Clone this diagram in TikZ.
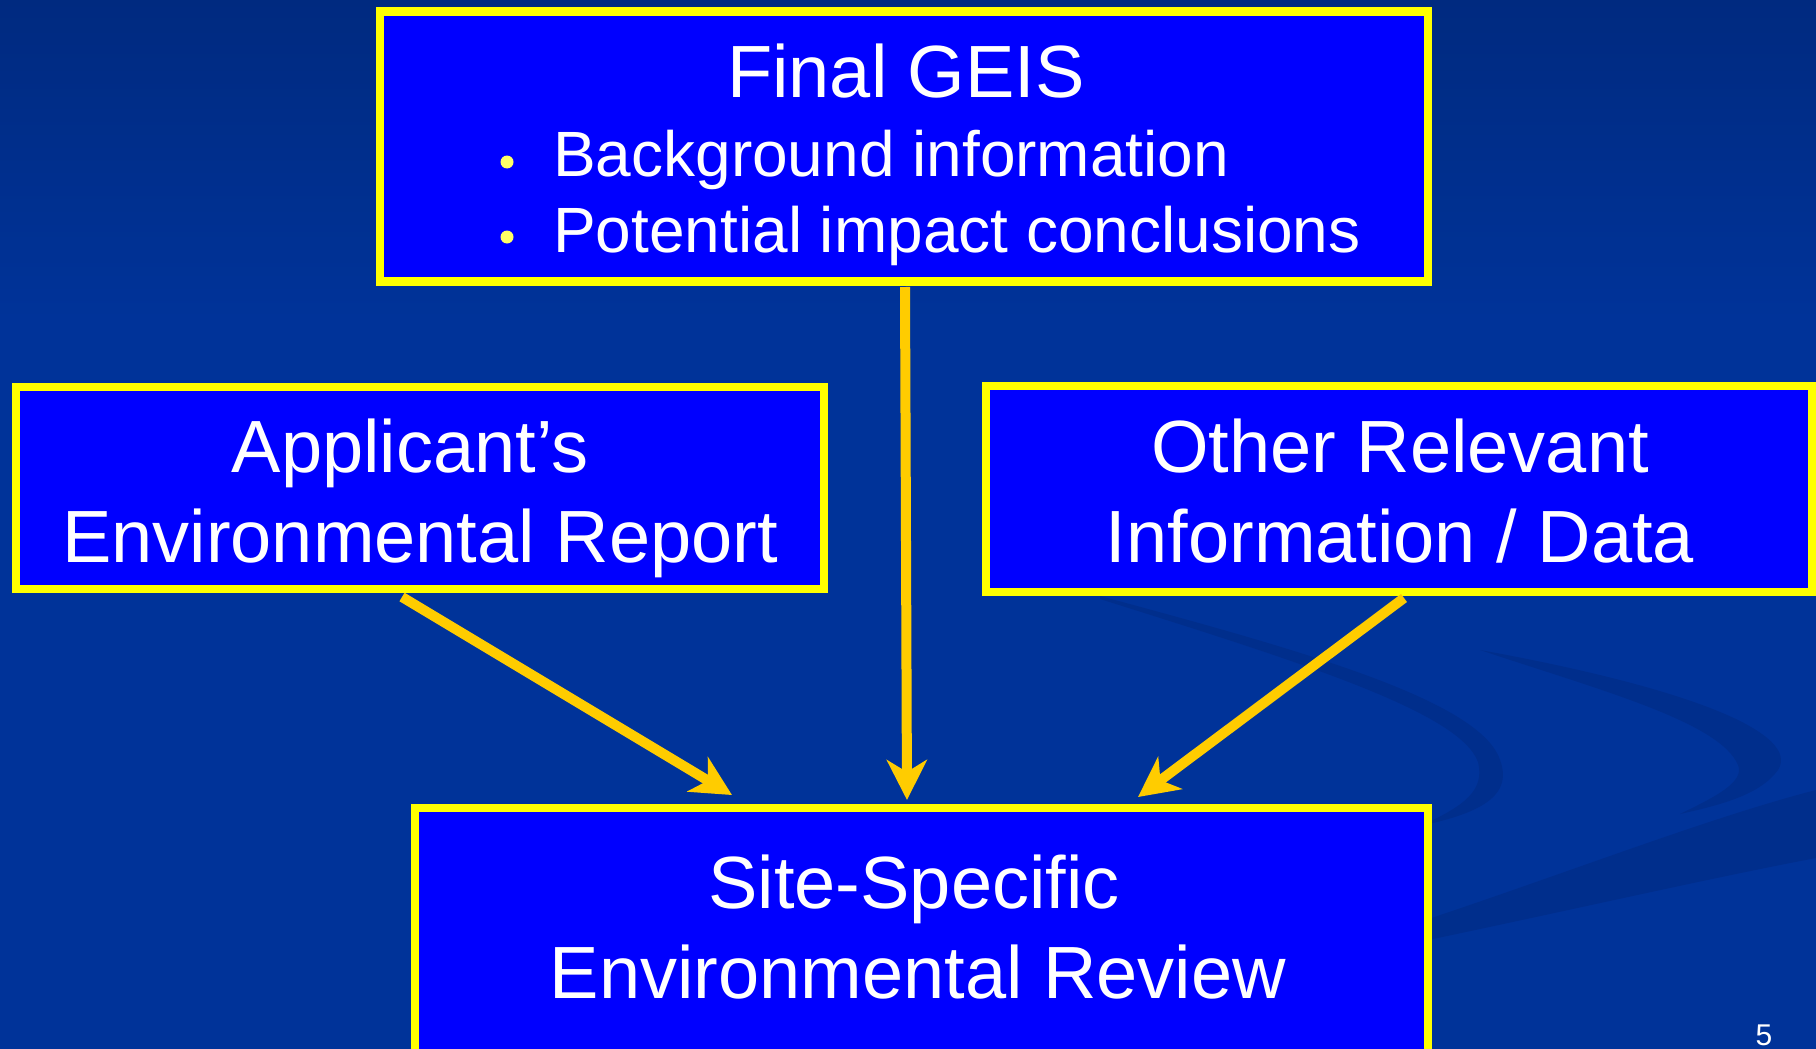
\documentclass[tikz,border=0pt]{standalone}
\usepackage{fontspec}
\setmainfont{Liberation Sans}
\usetikzlibrary{arrows.meta,calc}
\definecolor{bg}{HTML}{003399}
\definecolor{bgtop}{HTML}{002A80}
\definecolor{swoosh}{HTML}{002E8C}
\definecolor{boxfill}{HTML}{0000FF}
\definecolor{boxline}{HTML}{FFFF00}
\definecolor{arrowcol}{HTML}{FFCC00}
\definecolor{bulletcol}{HTML}{FFFF66}
\begin{document}
\begin{tikzpicture}[x=1pt,y=-1pt,
  box/.style={draw=boxline, fill=boxfill, line width=8.5pt, rectangle, inner sep=0pt, outer sep=0pt, anchor=north west},
  big/.style={text=white, font=\fontsize{74}{90}\selectfont, align=center, inner sep=0pt},
  small/.style={text=white, font=\fontsize{64}{76}\selectfont, inner sep=0pt, anchor=base west},
  dot/.style={circle, fill=bulletcol, minimum size=13pt, inner sep=0pt},
  arr/.style={draw=arrowcol, line width=10pt, -{Stealth[length=40pt,width=40pt,inset=12pt]}}
]
% background
\useasboundingbox (0,0) rectangle (1816,1049);
\fill[bg] (0,0) rectangle (1816,1049);
\shade[top color=bgtop, bottom color=bg] (0,0) rectangle (1816,320);
% swoosh
\fill[swoosh] (1100,596) .. controls (1300,650) and (1480,700) .. (1500,760)
  .. controls (1515,800) and (1470,815) .. (1420,826)
  .. controls (1465,806) and (1485,790) .. (1478,762)
  .. controls (1460,712) and (1300,662) .. (1100,599) -- cycle;
\fill[swoosh] (1480,650) .. controls (1700,690) and (1800,735) .. (1778,770)
  .. controls (1760,795) and (1720,805) .. (1680,814)
  .. controls (1715,797) and (1745,782) .. (1738,765)
  .. controls (1720,722) and (1600,690) .. (1480,650) -- cycle;
\fill[swoosh] (1380,935) .. controls (1550,880) and (1700,820) .. (1816,790)
  -- (1816,858) .. controls (1700,880) and (1550,915) .. (1380,950) -- cycle;

% boxes
\node[box, minimum width=1048pt, minimum height=270pt] (geis) at (380,11.5) {};
\node[box, minimum width=808pt, minimum height=202pt] (er) at (16,387) {};
\node[box, minimum width=826pt, minimum height=206pt] (ori) at (986,386) {};
\node[box, minimum width=1013pt, minimum height=320pt] (sser) at (415,808) {};

% texts
\node[big, anchor=base] (geistitle) at (906,97) {Final GEIS};
\node[dot] (b1) at (507,162) {};
\node[dot] (b2) at (507,237) {};
\node[small] (bt1) at (553,176) {Background information};
\node[small] (bt2) at (553,252) {Potential impact conclusions};
\node[big] (ertext) at (420,498.5) {Applicant’s\hspace*{20pt}\\Environmental Report};
\node[big] (oritext) at (1400,491) {Other Relevant\\Information / Data};
\node[big] (ssertext) at (918,927) {Site-Specific\hspace*{8pt}\\Environmental Review};
\node[text=white, font=\fontsize{30}{36}\selectfont, anchor=base, inner sep=0pt] (pagenum) at (1764,1045) {5};

% connectors
\draw[arr] ($(er.south)+(-18,8)$) -- ($(sser.north)+(-189.5,-13)$);
\draw[arr] ($(geis.south)+(1,5.5)$) -- ($(sser.north)+(-14.5,-8)$);
\draw[arr] ($(ori.south)+(5,6)$) -- ($(sser.north)+(216.5,-11)$);
\end{tikzpicture}
\end{document}
